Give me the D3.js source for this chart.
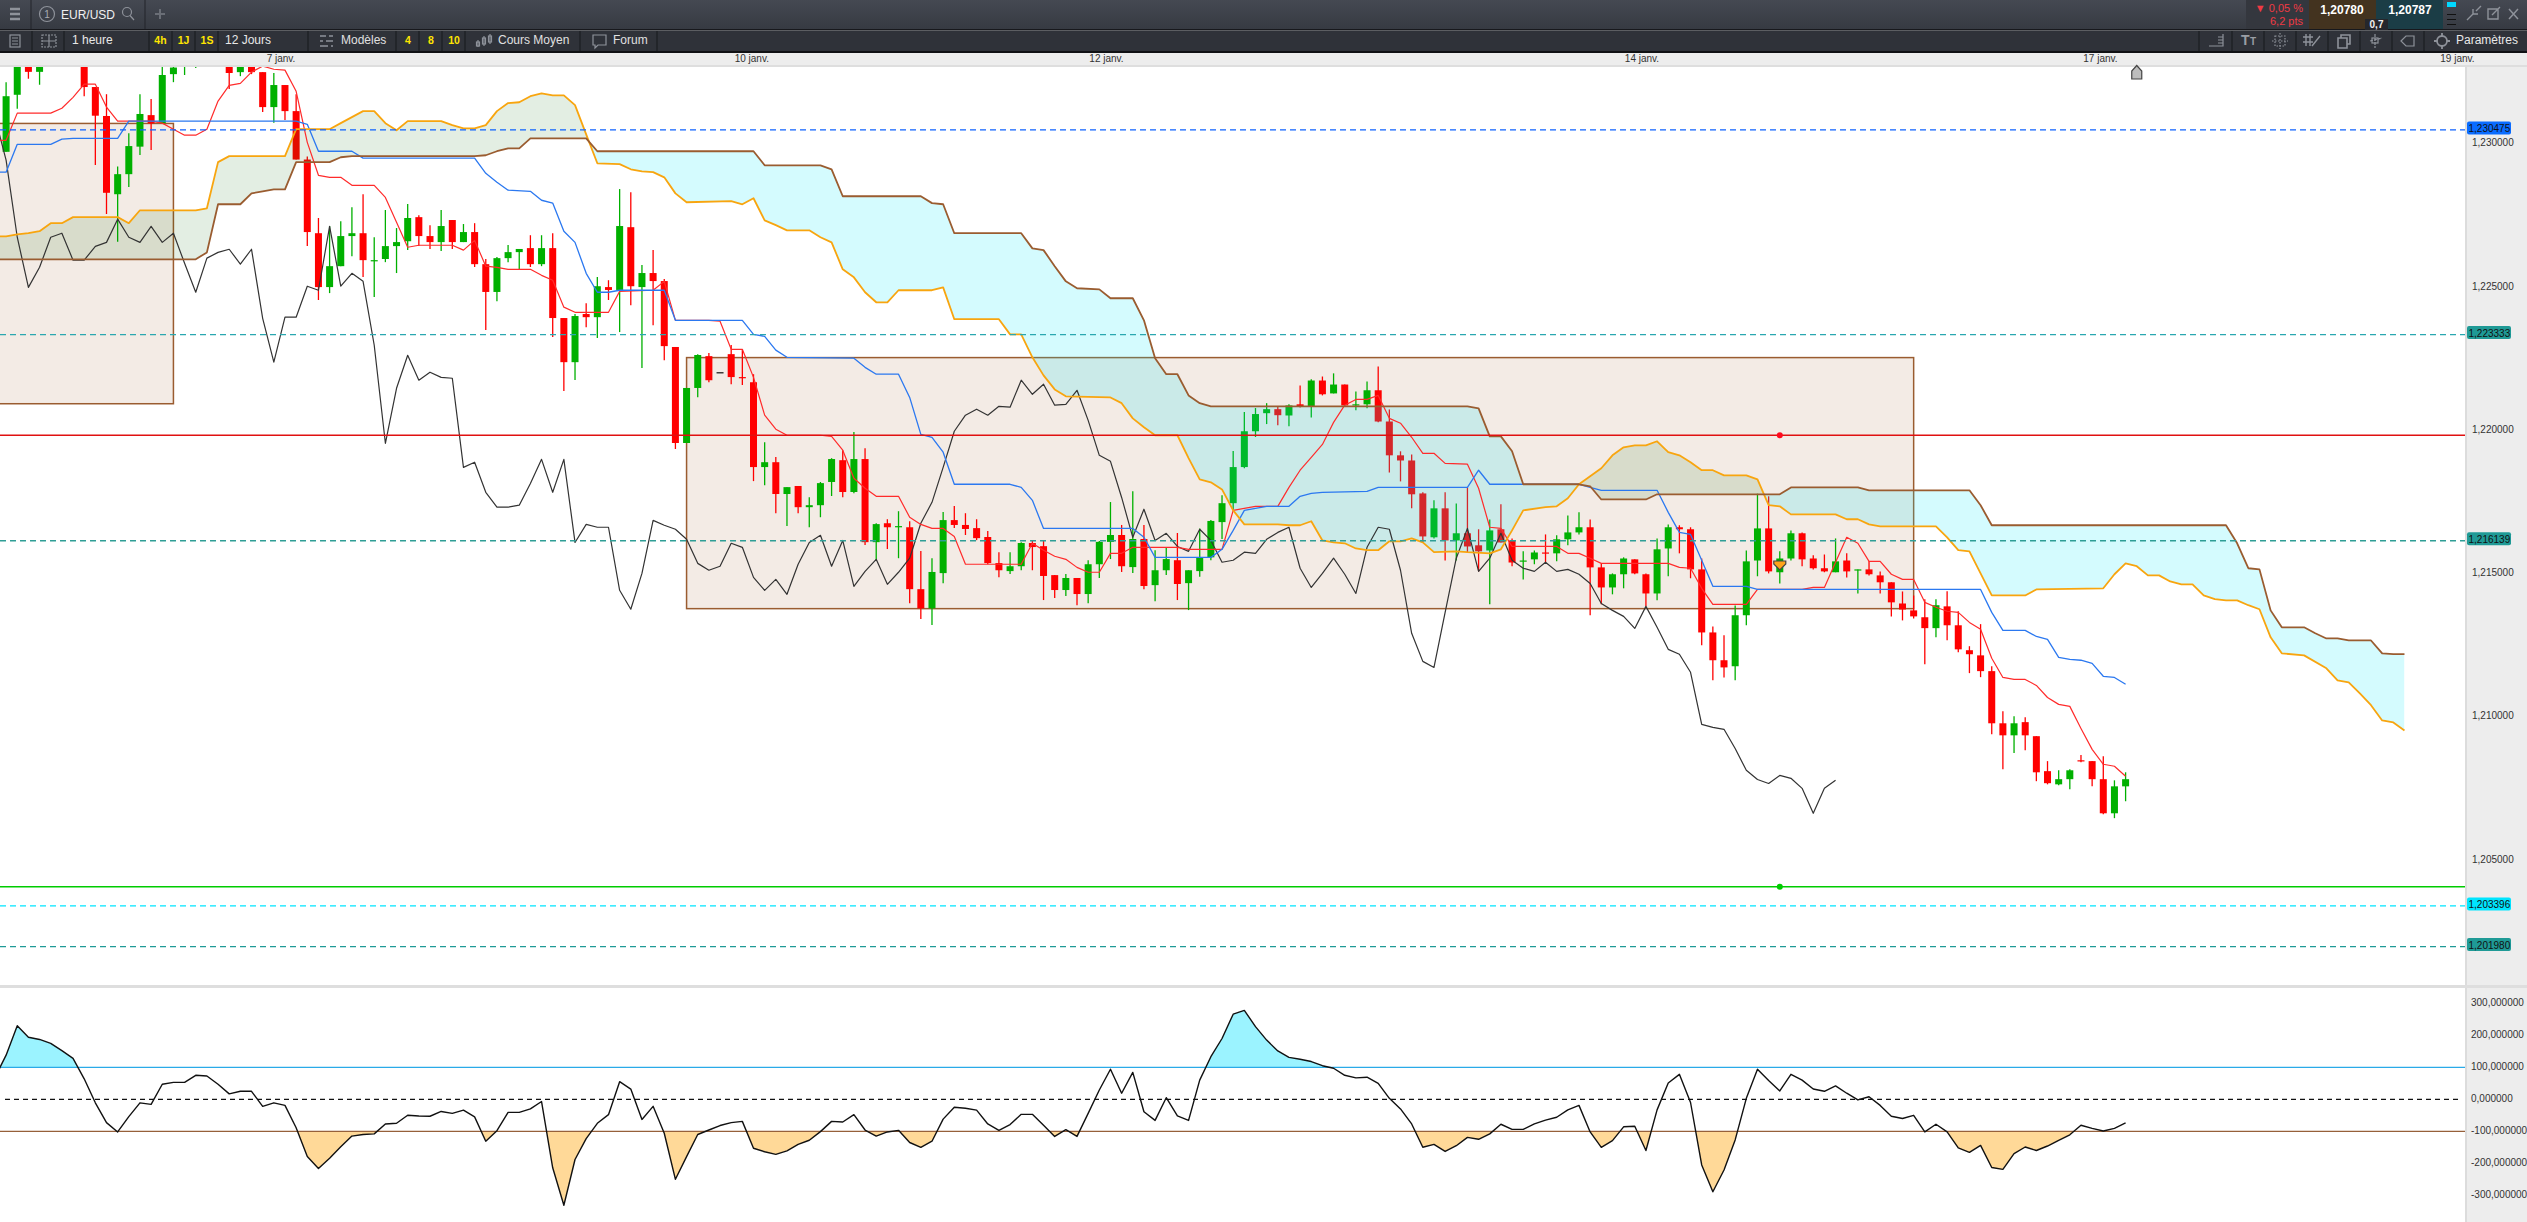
<!DOCTYPE html>
<html>
<head>
<meta charset="utf-8">
<title>EUR/USD</title>
<script src="https://cdn.jsdelivr.net/npm/d3@7"></script>
<style>
  html, body { margin: 0; padding: 0; background: #fff; overflow: hidden; }
  svg { display: block; font-family: "Liberation Sans", Arial, sans-serif; }
</style>
</head>
<body>
<svg id="chart" width="2527" height="1222"></svg>
<script>
// prices are in points, 1 point = 0.00001
// candles, one row per hour: open, high, low, close
const ohlc = [
[122971,123214,122971,123165],[123170,123340,123121,123326],[123297,123310,123226,123250],[123250,123300,123205,123285],
[123320,123380,123310,123360],[123380,123400,123330,123340],[123340,123390,123330,123370],[123330,123350,123165,123197],
[123197,123197,122925,123097],[123096,123172,122754,122828],[122823,122920,122657,122893],[122893,123036,122848,122991],
[122989,123172,122960,123103],[123099,123155,122977,123070],[123071,123290,123071,123239],[123242,123300,123214,123265],
[123268,123300,123239,123279],[123278,123300,123263,123290],[123340,123360,123310,123320],[123320,123360,123310,123345],
[123320,123335,123190,123246],[123249,123320,123235,123300],[123300,123310,123242,123249],[123249,123249,123110,123127],
[123127,123246,123072,123204],[123204,123204,123082,123113],[123113,123172,122944,122944],[122944,122955,122642,122691],
[122687,122740,122454,122499],[122499,122712,122478,122572],[122572,122729,122572,122677],[122677,122778,122607,122687],
[122687,122823,122534,122593],[122590,122673,122464,122593],[122597,122768,122586,122642],[122642,122705,122548,122656],
[122659,122789,122628,122740],[122743,122750,122642,122677],[122677,122715,122632,122656],[122656,122768,122625,122712],
[122733,122733,122632,122656],[122656,122719,122656,122691],[122691,122722,122569,122579],[122579,122597,122349,122482],
[122482,122604,122450,122600],[122600,122646,122586,122621],[122621,122632,122562,122632],[122635,122680,122569,122579],
[122579,122680,122572,122635],[122635,122687,122325,122391],[122391,122391,122136,122237],[122237,122405,122175,122398],
[122405,122443,122359,122394],[122394,122534,122321,122502],[122499,122523,122454,122489],[122489,122841,122342,122712],
[122708,122830,122436,122502],[122499,122576,122217,122548],[122548,122628,122366,122520],[122520,122527,122244,122293],
[122290,122290,121934,121955],[121955,122147,121955,122147],[122147,122265,122115,122262],[122258,122269,122167,122174],
[122202,122202,122202,122202],[122265,122297,122160,122185],[122185,122283,122157,122183],[122167,122195,121822,121871],
[121871,121958,121808,121888],[121888,121906,121710,121777],[121777,121801,121665,121801],[121805,121805,121710,121731],
[121731,121766,121661,121738],[121738,121819,121696,121815],[121819,121902,121770,121899],[121895,121930,121766,121784],
[121784,121993,121780,121899],[121899,121937,121599,121609],[121609,121675,121546,121672],[121675,121689,121585,121661],
[121663,121717,121553,121665],[121661,121682,121396,121445],[121445,121578,121341,121378],[121378,121553,121320,121505],
[121501,121714,121466,121686],[121686,121735,121658,121669],[121669,121710,121634,121655],[121658,121689,121616,121623],
[121627,121648,121532,121536],[121536,121574,121487,121511],[121508,121574,121498,121525],[121525,121609,121511,121606],
[121606,121616,121511,121592],[121595,121616,121407,121491],[121494,121494,121414,121442],[121442,121498,121421,121484],
[121484,121484,121389,121428],[121428,121546,121396,121532],[121532,121613,121484,121610],[121610,121749,121550,121634],
[121634,121669,121505,121525],[121522,121787,121501,121620],[121620,121669,121445,121456],[121459,121581,121403,121511],
[121511,121592,121494,121550],[121546,121641,121407,121463],[121466,121511,121372,121511],[121508,121657,121488,121556],
[121556,121686,121546,121683],[121679,121773,121620,121745],[121745,121927,121721,121871],[121871,122063,121867,121996],
[121996,122077,121976,122056],[122059,122094,122021,122073],[122073,122084,122017,122052],[122051,122090,122013,122086],
[122090,122156,122079,122083],[122083,122177,122044,122173],[122173,122187,122121,122125],[122128,122198,122128,122159],
[122159,122159,122086,122086],[122087,122135,122069,122090],[122090,122170,122076,122139],[122139,122222,122027,122030],
[122030,122072,121852,121912],[121912,121926,121821,121894],[121894,121915,121727,121776],[121779,121783,121608,121629],
[121626,121755,121622,121727],[121727,121783,121545,121615],[121615,121744,121545,121640],[121640,121800,121573,121594],
[121598,121654,121507,121577],[121580,121688,121392,121650],[121654,121741,121608,121608],[121615,121622,121525,121538],
[121543,121577,121479,121545],[121549,121580,121532,121573],[121573,121636,121538,121570],[121570,121633,121542,121619],
[121619,121702,121598,121643],[121643,121713,121636,121661],[121661,121688,121354,121521],[121521,121535,121392,121451],
[121451,121500,121427,121497],[121497,121556,121448,121552],[121549,121549,121497,121500],[121497,121500,121385,121430],
[121430,121622,121406,121584],[121587,121671,121490,121661],[121661,121668,121570,121654],[121654,121661,121483,121514],
[121514,121552,121249,121294],[121294,121315,121127,121197],[121197,121284,121137,121172],[121176,121388,121127,121354],
[121354,121580,121319,121542],[121545,121778,121490,121657],[121657,121769,121500,121507],[121504,121577,121465,121552],
[121552,121650,121545,121640],[121640,121643,121525,121549],[121552,121563,121514,121518],[121518,121566,121504,121507],
[121504,121622,121504,121542],[121545,121570,121486,121507],[121512,121514,121430,121514],[121514,121542,121493,121497],
[121493,121507,121430,121469],[121469,121469,121350,121399],[121395,121437,121336,121374],[121371,121423,121343,121350],
[121347,121410,121183,121309],[121309,121410,121277,121389],[121385,121438,121267,121319],[121319,121368,121225,121235],
[121232,121246,121152,121218],[121214,121323,121138,121159],[121159,121176,120939,120977],[120977,121019,120817,120935],
[120935,121002,120873,120977],[120981,120998,120883,120935],[120932,120932,120775,120806],[120810,120845,120764,120768],
[120764,120813,120761,120782],[120782,120817,120747,120813],[120848,120866,120841,120845],[120845,120845,120757,120782],
[120782,120862,120660,120663],[120663,120778,120646,120757],[120757,120806,120705,120782]
];

// ichimoku lines, read as [hour index, price] at each bend
const tenkan = [[-1,123011],[0,123011],[1,123106],[4,123106],[5,123123],[6,123161],[7,123207],[8,123207],[9,123127],[10,123078],[13,123078],[14,123071],[15,123050],[16,123029],[17,123029],[18,123050],[19,123148],[20,123203],[21,123210],[22,123249],[23,123270],[24,123259],[25,123256],[26,123182],[27,123004],[28,122889],[29,122882],[30,122882],[31,122854],[33,122854],[34,122812],[35,122725],[36,122638],[37,122645],[40,122645],[41,122628],[42,122662],[43,122572],[44,122568],[45,122561],[47,122561],[48,122540],[49,122523],[50,122429],[51,122411],[54,122411],[55,122484],[58,122488],[59,122519],[60,122383],[63,122383],[64,122380],[65,122282],[66,122282],[67,122184],[68,122052],[69,122003],[70,121982],[73,121982],[74,121978],[75,121930],[76,121832],[77,121797],[78,121769],[80,121769],[81,121696],[82,121671],[83,121657],[84,121657],[85,121629],[86,121532],[91,121532],[92,121605],[93,121581],[94,121560],[95,121549],[96,121521],[97,121504],[98,121504],[99,121570],[100,121570],[101,121591],[105,121591],[106,121584],[109,121584],[110,121720],[112,121734],[114,121734],[115,121800],[116,121860],[117,121905],[118,121950],[119,122027],[120,122087],[121,122107],[122,122107],[123,122121],[124,122041],[125,122024],[126,121975],[127,121919],[128,121919],[129,121884],[131,121881],[132,121797],[133,121661],[134,121657],[135,121594],[139,121594],[140,121570],[141,121570],[142,121553],[143,121535],[149,121535],[150,121521],[151,121518],[152,121448],[153,121392],[156,121392],[157,121444],[161,121444],[162,121451],[163,121451],[164,121539],[165,121626],[166,121605],[167,121542],[168,121542],[169,121497],[170,121479],[171,121479],[172,121399],[173,121382],[174,121368],[175,121364],[176,121329],[177,121305],[178,121204],[179,121137],[180,121130],[181,121130],[182,121109],[183,121067],[184,121043],[185,121036],[186,120959],[187,120886],[188,120834],[189,120827],[190,120792]];
const kijun = [[-1,122900],[0,122900],[1,122997],[4,122997],[5,123015],[6,123018],[10,123018],[11,123078],[26,123078],[27,123067],[28,122973],[31,122973],[32,122949],[42,122949],[43,122896],[44,122865],[45,122837],[47,122833],[48,122802],[49,122792],[50,122694],[51,122655],[52,122547],[53,122481],[54,122481],[55,122488],[59,122488],[60,122383],[66,122383],[67,122334],[68,122327],[69,122279],[70,122254],[76,122251],[77,122219],[78,122195],[80,122195],[81,122114],[82,121985],[83,121975],[84,121923],[85,121811],[90,121811],[91,121800],[92,121755],[93,121657],[101,121657],[102,121626],[103,121556],[108,121556],[109,121584],[110,121650],[111,121720],[112,121727],[113,121734],[115,121734],[116,121769],[117,121779],[118,121783],[122,121786],[123,121800],[131,121800],[132,121860],[133,121811],[141,121811],[143,121790],[148,121790],[149,121713],[150,121643],[151,121636],[152,121546],[153,121455],[156,121455],[157,121444],[177,121444],[178,121364],[179,121301],[181,121301],[182,121280],[183,121270],[184,121207],[185,121200],[186,121197],[187,121186],[188,121141],[189,121137],[190,121113]];
const spanA = [[-1,122676],[0,122676],[1,122683],[2,122687],[3,122694],[4,122722],[5,122722],[6,122743],[10,122743],[11,122722],[12,122767],[17,122767],[18,122774],[19,122935],[20,122956],[25,122956],[26,123050],[29,123050],[30,123071],[31,123092],[32,123113],[33,123113],[34,123071],[35,123046],[36,123078],[39,123078],[40,123064],[41,123053],[42,123053],[43,123064],[44,123113],[45,123141],[46,123144],[47,123165],[48,123175],[49,123168],[50,123168],[51,123134],[52,123032],[53,122931],[55,122928],[56,122910],[57,122903],[58,122900],[59,122882],[60,122826],[61,122795],[65,122799],[66,122788],[67,122809],[68,122732],[69,122715],[70,122697],[72,122697],[73,122673],[74,122655],[75,122561],[76,122533],[77,122481],[78,122446],[79,122446],[80,122488],[83,122488],[84,122498],[85,122387],[89,122387],[90,122334],[91,122334],[92,122254],[93,122191],[94,122142],[95,122118],[99,122114],[100,122094],[101,122041],[102,122010],[103,121982],[105,121982],[106,121902],[107,121828],[108,121818],[109,121793],[110,121720],[111,121671],[114,121671],[115,121668],[116,121668],[117,121682],[118,121615],[119,121608],[120,121605],[121,121587],[122,121581],[123,121581],[124,121612],[125,121612],[126,121622],[127,121608],[128,121574],[130,121577],[131,121574],[133,121570],[134,121584],[135,121650],[136,121720],[138,121731],[139,121734],[140,121762],[141,121811],[142,121839],[143,121867],[144,121912],[145,121940],[146,121947],[147,121947],[148,121961],[149,121923],[150,121912],[151,121888],[152,121860],[153,121860],[154,121842],[156,121842],[157,121828],[158,121738],[159,121734],[160,121706],[164,121706],[165,121689],[166,121689],[167,121671],[168,121664],[173,121664],[174,121626],[175,121581],[176,121577],[177,121500],[178,121423],[181,121423],[182,121444],[188,121448],[189,121497],[190,121535],[191,121525],[192,121493],[193,121493],[194,121472],[195,121462],[196,121462],[197,121423],[198,121410],[199,121406],[200,121406],[201,121389],[202,121375],[203,121277],[204,121221],[206,121214],[208,121169],[209,121127],[210,121120],[211,121081],[212,121040],[213,120987],[214,120980],[215,120952]];
const spanB = [[-1,122596],[17,122596],[18,122620],[19,122788],[21,122788],[22,122826],[23,122833],[24,122840],[25,122840],[26,122935],[29,122935],[30,122952],[31,122956],[42,122956],[43,122959],[44,122973],[45,122983],[46,122983],[47,123018],[52,123018],[53,122973],[67,122973],[68,122924],[73,122924],[74,122910],[75,122816],[82,122816],[83,122792],[84,122788],[85,122687],[91,122687],[92,122634],[93,122628],[94,122572],[95,122519],[96,122495],[98,122491],[99,122460],[101,122460],[102,122383],[103,122251],[104,122195],[105,122195],[106,122121],[107,122094],[108,122083],[131,122083],[132,122076],[133,121978],[134,121978],[135,121926],[136,121811],[141,121811],[142,121804],[143,121758],[147,121758],[148,121776],[159,121776],[160,121800],[166,121800],[167,121790],[176,121790],[177,121738],[178,121668],[199,121668],[200,121605],[201,121518],[202,121514],[203,121371],[204,121312],[206,121312],[207,121291],[208,121273],[209,121273],[210,121266],[212,121266],[213,121221],[214,121218],[215,121218]];
// chikou, one value per hour starting at index -1
const chikou = [123092,122942,122673,122498,122568,122673,122687,122593,122593,122641,122655,122736,122673,122655,122711,122655,122687,122582,122481,122600,122620,122631,122579,122631,122390,122237,122394,122394,122502,122488,122711,122502,122547,122519,122296,121954,122146,122261,122174,122202,122184,122181,121870,121888,121783,121731,121731,121738,121814,121898,121783,121898,121608,121671,121661,121661,121441,121375,121500,121685,121668,121654,121619,121535,121511,121525,121605,121591,121486,121441,121479,121427,121532,121608,121633,121525,121615,121455,121507,121549,121462,121504,121553,121675,121748,121870,121996,122052,122073,122052,122083,122080,122174,122125,122160,122087,122090,122139,122034,121912,121891,121765,121626,121724,121615,121640,121594,121577,121654,121615,121539,121546,121574,121570,121619,121643,121661,121518,121451,121500,121553,121497,121430,121591,121661,121654,121511,121291,121193,121172,121364,121553,121657,121507,121553,121640,121546,121518,121507,121539,121507,121514,121497,121465,121395,121371,121350,121308,121385,121312,121235,121218,121155,120973,120963,120956,120889,120813,120781,120767,120795,120785,120750,120663,120750,120778];

// CCI, one value per hour starting at index -1
const cci = [68,138,230,194,187,175,152,128,64,-11,-73,-102,-54,-11,-16,47,53,53,75,73,47,17,25,25,-22,-11,-19,-89,-179,-216,-184,-148,-115,-110,-108,-77,-75,-50,-52,-53,-38,-44,-34,-55,-131,-98,-41,-41,-30,-7,-214,-331,-188,-123,-75,-48,55,32,-63,-22,-106,-250,-179,-110,-96,-82,-73,-69,-153,-164,-172,-161,-141,-128,-101,-69,-71,-48,-96,-115,-102,-97,-135,-150,-131,-62,-25,-28,-34,-77,-97,-79,-47,-47,-81,-116,-95,-116,-44,29,94,19,84,-39,-66,5,-52,-66,60,133,190,266,278,227,185,151,131,125,118,105,97,75,67,69,50,3,-30,-77,-150,-141,-163,-145,-119,-125,-108,-78,-94,-94,-77,-65,-56,-33,-19,-102,-150,-129,-86,-84,-160,-33,51,78,-10,-205,-289,-221,-127,3,94,59,26,78,60,32,25,42,19,-2,8,-19,-53,-60,-50,-102,-78,-102,-152,-166,-144,-213,-219,-170,-149,-160,-146,-128,-111,-81,-91,-99,-91,-74];

// zones: first hour, last hour, top price, bottom price
const zones = [[-10,15,123070,122092],[61,171,122253,121377]];
// horizontal levels and their colours
const dashedLevels = [123047.5,122333.3,121613.9,120339.6,120198];
const dashedColors = ["#0f62fe","#2aa7b0","#2f9e96","#00e5ff","#1f9a96"];
const solidLevels = [121981.8,120406.8];
const solidColors = ["#e01010","#00cc00"];
const signalHour = 159;

const priceTicks = [120500,121000,121500,122000,122500,123000];
const cciTicks = [300,200,100,0,-100,-200,-300];
const timeHours = [24.6,66.8,98.6,146.6,187.7,219.7];
const timeLabels = ["7 janv.","10 janv.","12 janv.","14 janv.","17 janv.","19 janv."];

const svg = d3.select("#chart");
const W = 2527, H = 1222, plotRight = 2465, plotTop = 67, plotBottom = 985, cciTop = 988;

const x = d3.scaleLinear().domain([0, 190]).range([6.1, 2125.6]);
const y = d3.scaleLinear().domain([120500, 123000]).range([860, 143.5]);
const yCci = d3.scaleLinear().domain([-100, 100]).range([1131.3, 1067.3]);

const defs = svg.append("defs");
const grad = defs.append("linearGradient").attr("id", "topbar").attr("x1", 0).attr("x2", 0).attr("y1", 0).attr("y2", 1);
grad.append("stop").attr("offset", 0).attr("stop-color", "#454952");
grad.append("stop").attr("offset", 1).attr("stop-color", "#363a42");

defs.append("clipPath").attr("id", "plotClip").append("rect").attr("x", 0).attr("y", plotTop).attr("width", plotRight).attr("height", plotBottom - plotTop);
defs.append("clipPath").attr("id", "cciClip").append("rect").attr("x", 0).attr("y", cciTop).attr("width", plotRight).attr("height", H - cciTop);

// cloud: the two spans cut each other through clip paths
const belowArea = d3.area().x(d => x(d[0])).y0(plotBottom).y1(d => y(d[1]));
const aboveArea = d3.area().x(d => x(d[0])).y0(plotTop - 100).y1(d => y(d[1]));
defs.append("clipPath").attr("id", "belowA").append("path").attr("d", belowArea(spanA));
defs.append("clipPath").attr("id", "belowB").append("path").attr("d", belowArea(spanB));

const plot = svg.append("g").attr("clip-path", "url(#plotClip)");

zones.forEach(z => {
  plot.append("rect")
    .attr("x", x(z[0])).attr("y", y(z[2]))
    .attr("width", x(z[1]) - x(z[0])).attr("height", y(z[3]) - y(z[2]))
    .attr("fill", "#f3ebe5").attr("stroke", "#9a5c30").attr("stroke-width", 1.5);
});

// candles
const candleColor = d => d[3] > d[0] ? "#00b000" : d[3] < d[0] ? "#ff0000" : "#111";
const candles = plot.append("g");
candles.selectAll("line").data(ohlc).join("line")
  .attr("x1", (d, i) => x(i)).attr("x2", (d, i) => x(i))
  .attr("y1", d => y(d[1])).attr("y2", d => y(d[2]))
  .attr("stroke", candleColor).attr("stroke-width", 1.3);
candles.selectAll("rect").data(ohlc).join("rect")
  .attr("x", (d, i) => x(i) - 3.5).attr("width", 7)
  .attr("y", d => y(Math.max(d[0], d[3])))
  .attr("height", d => Math.max(1.2, Math.abs(y(d[0]) - y(d[3]))))
  .attr("fill", candleColor);

plot.append("g").attr("clip-path", "url(#belowA)")
  .append("path").attr("d", aboveArea(spanB)).attr("fill", "rgba(0,100,0,0.11)");
plot.append("g").attr("clip-path", "url(#belowB)")
  .append("path").attr("d", aboveArea(spanA)).attr("fill", "rgba(0,230,250,0.17)");

const priceLine = d3.line().x(d => x(d[0])).y(d => y(d[1]));
const drawLine = (data, color, width) => plot.append("path").attr("d", priceLine(data))
  .attr("fill", "none").attr("stroke", color).attr("stroke-width", width).attr("stroke-linejoin", "round");

drawLine(chikou.map((v, i) => [i - 1, v]), "#333", 1.2);
drawLine(tenkan, "#ff2b2b", 1.2);
drawLine(kijun, "#2b78f0", 1.3);
drawLine(spanA, "#f8a50f", 1.8);
drawLine(spanB, "#9a5c30", 1.8);

// levels
dashedLevels.forEach((v, i) => {
  plot.append("line").attr("x1", 0).attr("x2", plotRight).attr("y1", y(v)).attr("y2", y(v))
    .attr("stroke", dashedColors[i]).attr("stroke-width", 1.3).attr("stroke-dasharray", "6,4");
});
solidLevels.forEach((v, i) => {
  plot.append("line").attr("x1", 0).attr("x2", plotRight).attr("y1", y(v)).attr("y2", y(v))
    .attr("stroke", solidColors[i]).attr("stroke-width", 1.4);
  plot.append("circle").attr("cx", x(signalHour)).attr("cy", y(v)).attr("r", 3).attr("fill", i ? "#00cc00" : "#ff0a1e");
});

// signal marker on the candle
const sx = x(signalHour), sy = 565;
plot.append("path")
  .attr("d", `M${sx - 6},${sy - 4}L${sx + 6},${sy - 4}L${sx + 6},${sy - 1}L${sx},${sy + 5}L${sx - 6},${sy - 1}Z`)
  .attr("fill", "#ffa31a").attr("stroke", "#444").attr("stroke-width", 1.2);

// CCI panel
const cciPanel = svg.append("g").attr("clip-path", "url(#cciClip)");
const cciPts = cci.map((v, i) => [i - 1, v]);
defs.append("clipPath").attr("id", "over100").append("rect").attr("x", 0).attr("y", cciTop).attr("width", plotRight).attr("height", yCci(100) - cciTop);
defs.append("clipPath").attr("id", "under100").append("rect").attr("x", 0).attr("y", yCci(-100)).attr("width", plotRight).attr("height", H - yCci(-100));

cciPanel.append("g").attr("clip-path", "url(#over100)").append("path")
  .attr("d", d3.area().x(d => x(d[0])).y0(yCci(100)).y1(d => yCci(d[1]))(cciPts)).attr("fill", "#9bf3ff");
cciPanel.append("g").attr("clip-path", "url(#under100)").append("path")
  .attr("d", d3.area().x(d => x(d[0])).y0(yCci(-100)).y1(d => yCci(d[1]))(cciPts)).attr("fill", "#ffd998");

cciPanel.append("line").attr("x1", 0).attr("x2", plotRight).attr("y1", yCci(100)).attr("y2", yCci(100)).attr("stroke", "#2aaae8").attr("stroke-width", 1.3);
cciPanel.append("line").attr("x1", 0).attr("x2", plotRight).attr("y1", yCci(-100)).attr("y2", yCci(-100)).attr("stroke", "#96603a").attr("stroke-width", 1.3);
cciPanel.append("line").attr("x1", 5).attr("x2", plotRight - 3).attr("y1", yCci(0)).attr("y2", yCci(0)).attr("stroke", "#111").attr("stroke-width", 1.3).attr("stroke-dasharray", "5,4");
cciPanel.append("path").attr("d", d3.line().x(d => x(d[0])).y(d => yCci(d[1]))(cciPts))
  .attr("fill", "none").attr("stroke", "#111").attr("stroke-width", 1.4).attr("stroke-linejoin", "round");

// panel frames
svg.append("rect").attr("x", 0).attr("y", plotBottom).attr("width", plotRight).attr("height", 3).attr("fill", "#dedede");
svg.append("rect").attr("x", plotRight).attr("y", plotTop).attr("width", W - plotRight).attr("height", H - plotTop).attr("fill", "#ededed");
svg.append("rect").attr("x", plotRight).attr("y", plotTop).attr("width", 2).attr("height", H - plotTop).attr("fill", "#dcdcdc");
svg.append("rect").attr("x", plotRight).attr("y", plotBottom).attr("width", W - plotRight).attr("height", 3).attr("fill", "#dedede");

// time band and toolbars go under the axis labels
svg.append("rect").attr("x", 0).attr("y", 53).attr("width", W).attr("height", 12).attr("fill", "#ededed");
svg.append("rect").attr("x", 0).attr("y", 65).attr("width", W).attr("height", 2).attr("fill", "#dedede");

// axes
const fmt = v => v.toFixed(6).replace(".", ",");
const cleanAxis = g => { g.select(".domain").remove(); g.selectAll(".tick line").remove();
  g.selectAll("text").attr("fill", "#333").style("font-size", "10px").style("font-family", "inherit"); };

svg.append("g").attr("transform", "translate(2472,-1)")
  .call(d3.axisRight(y).tickValues(priceTicks).tickSize(0).tickPadding(0).tickFormat(v => fmt(v / 100000)))
  .call(cleanAxis);
svg.append("g").attr("transform", "translate(2471,-1.5)")
  .call(d3.axisRight(yCci).tickValues(cciTicks).tickSize(0).tickPadding(0).tickFormat(fmt))
  .call(cleanAxis);

// level tags
const tagColors = ["#0a6cff","#1f9a96","#1f9a96","#00e5ff","#1f9a96"];
dashedLevels.forEach((v, i) => {
  svg.append("rect").attr("x", 2467).attr("y", y(v) - 8.5).attr("width", 44).attr("height", 13).attr("rx", 2).attr("fill", tagColors[i]);
  svg.append("text").attr("x", 2468.5).attr("y", y(v) + 2.5).attr("font-size", 10).attr("fill", "#111")
    .text(fmt(v / 100000));
});

svg.append("g").attr("transform", "translate(0,55)")
  .call(d3.axisBottom(x).tickValues(timeHours).tickSize(0).tickPadding(0).tickFormat((d, i) => timeLabels[i]))
  .call(cleanAxis);

// home marker on the time band
const hx = x(191);
svg.append("path").attr("d", `M${hx - 5},79L${hx - 5},71L${hx},65.5L${hx + 5},71L${hx + 5},79Z`)
  .attr("fill", "#bdbdbd").attr("stroke", "#444").attr("stroke-width", 1.2);

// toolbars
svg.append("rect").attr("x", 0).attr("y", 0).attr("width", W).attr("height", 29).attr("fill", "url(#topbar)");
svg.append("rect").attr("x", 0).attr("y", 29).attr("width", W).attr("height", 1.5).attr("fill", "#17181c");
svg.append("rect").attr("x", 0).attr("y", 30.5).attr("width", W).attr("height", 21).attr("fill", "#2f3239");
svg.append("rect").attr("x", 0).attr("y", 51).attr("width", W).attr("height", 2).attr("fill", "#101114");

const toolSeps = [32,64,149,172,195,218,308,396,419,442,465,580,657,2199,2232,2264,2296,2328,2360,2392,2424];
toolSeps.forEach(s => svg.append("line").attr("x1", s).attr("x2", s).attr("y1", 31).attr("y2", 51).attr("stroke", "#17181c"));
[31, 145].forEach(s => svg.append("line").attr("x1", s).attr("x2", s).attr("y1", 0).attr("y2", 29).attr("stroke", "#23252a"));

const label = (tx, ty, s, color, size, weight, anchor) => svg.append("text")
  .attr("x", tx).attr("y", ty).attr("fill", color).attr("font-size", size)
  .attr("font-weight", weight || "normal").attr("text-anchor", anchor || "start").text(s);

label(61, 19, "EUR/USD", "#f0f0f0", 12);
label(72, 44, "1 heure", "#e8e8e8", 12);
label(225, 44, "12 Jours", "#e8e8e8", 12);
label(341, 44, "Modèles", "#e0e0e0", 12);
label(498, 44, "Cours Moyen", "#e0e0e0", 12);
label(613, 44, "Forum", "#e0e0e0", 12);
label(2456, 44, "Paramètres", "#e8e8e8", 12);
const yellowLabels = ["4h","1J","1S","4","8","10"];
const yellowPos = [160.5,183.5,207,408,431,454];
yellowLabels.forEach((s, i) => label(yellowPos[i], 44, s, "#ffe600", 10.5, "bold", "middle"));

// icons
const icon = svg.append("g").attr("fill", "none").attr("stroke", "#8e929a").attr("stroke-width", 1.2);
[9, 14, 19].forEach(v => icon.append("line").attr("x1", 10).attr("x2", 20).attr("y1", v).attr("y2", v).attr("stroke-width", 2.5));
icon.append("circle").attr("cx", 47).attr("cy", 14).attr("r", 7.5);
label(47, 18, "1", "#a8acb3", 10, "normal", "middle");
icon.append("circle").attr("cx", 127).attr("cy", 12).attr("r", 4.5);
icon.append("line").attr("x1", 130).attr("y1", 15.5).attr("x2", 134).attr("y2", 20);
icon.append("path").attr("d", "M160,9V19M155,14H165").attr("stroke", "#6a6e76").attr("stroke-width", 2);
icon.append("rect").attr("x", 10).attr("y", 35).attr("width", 10).attr("height", 12);
icon.append("path").attr("d", "M12,38H18M12,41H18M12,44H18");
icon.append("rect").attr("x", 42).attr("y", 35).attr("width", 14).attr("height", 12).attr("stroke-dasharray", "2,1");
icon.append("path").attr("d", "M49,35V47M42,41H56");
icon.append("path").attr("d", "M320,36H326M329,36H333M320,41H323M326,41H333M320,46H328M331,46H333").attr("stroke-width", 1.6);
icon.append("path").attr("d", "M478,40V47M484,36V46M490,34V44");
icon.append("rect").attr("x", 476.5).attr("y", 42).attr("width", 3).attr("height", 4);
icon.append("rect").attr("x", 482.5).attr("y", 38).attr("width", 3).attr("height", 6);
icon.append("rect").attr("x", 488.5).attr("y", 36).attr("width", 3).attr("height", 6);
icon.append("path").attr("d", "M593,35H606V45H598L595,48V45H593Z");

icon.append("path").attr("d", "M2209,46H2223V34M2218,37H2223M2218,40H2223M2218,43H2223");
label(2241, 45, "T", "#9a9ea5", 14, "bold");
label(2250, 45, "T", "#9a9ea5", 10, "bold");
icon.append("rect").attr("x", 2275).attr("y", 36).attr("width", 10).attr("height", 10).attr("stroke-dasharray", "1.5,1.5");
icon.append("path").attr("d", "M2280,33V49M2272,41H2288").attr("stroke-dasharray", "1.5,1.5");
icon.append("path").attr("d", "M2306,34V46M2310,34V46M2303,37H2313M2303,42H2313M2312,46L2320,36").attr("stroke-width", 1.4);
icon.append("path").attr("d", "M2338,38H2347V48H2338ZM2341,38V35H2350V44H2347").attr("stroke-width", 1.6);
icon.append("path").attr("d", "M2375,34V48M2370,41L2382,38").attr("stroke-dasharray", "3,1");
icon.append("rect").attr("x", 2372).attr("y", 38).attr("width", 6).attr("height", 5);
icon.append("path").attr("d", "M2401,41L2406,36H2414V46H2406Z");
icon.append("circle").attr("cx", 2442).attr("cy", 41).attr("r", 5).attr("stroke-width", 1.8);
icon.append("path").attr("d", "M2442,33V36M2442,46V49M2434,41H2437M2447,41H2450").attr("stroke-width", 1.8);

// quote boxes
svg.append("rect").attr("x", 2246).attr("y", 0).attr("width", 63).attr("height", 29).attr("fill", "#34373e");
svg.append("rect").attr("x", 2309).attr("y", 0).attr("width", 67).attr("height", 29).attr("fill", "#43331f");
svg.append("rect").attr("x", 2376).attr("y", 0).attr("width", 67).attr("height", 29).attr("fill", "#1b3d46");
label(2303, 12, "\u25BC 0,05 %", "#f03a44", 11, "normal", "end");
label(2303, 25, "6,2 pts", "#f03a44", 11, "normal", "end");
label(2342, 14, "1,20780", "#fff", 12, "bold", "middle");
label(2410, 14, "1,20787", "#fff", 12, "bold", "middle");
svg.append("rect").attr("x", 2365).attr("y", 19).attr("width", 23).attr("height", 11).attr("fill", "#25272c");
label(2376.5, 28, "0,7", "#f0f0f0", 10, "bold", "middle");
svg.append("rect").attr("x", 2447).attr("y", 2).attr("width", 9).attr("height", 5).attr("fill", "#00d8ff");
[14, 19, 24].forEach(v => svg.append("rect").attr("x", 2447).attr("y", v).attr("width", 9).attr("height", 1).attr("fill", "#111"));
icon.append("path").attr("d", "M2467,20L2473,14M2473,9V14H2478M2476,11L2481,6").attr("stroke-width", 1.4);
icon.append("path").attr("d", "M2488,9H2498V19H2488ZM2492,15L2500,7").attr("stroke-width", 1.4);
icon.append("path").attr("d", "M2509,9L2518,19M2518,9L2509,19").attr("stroke-width", 1.5);
</script>
</body>
</html>
